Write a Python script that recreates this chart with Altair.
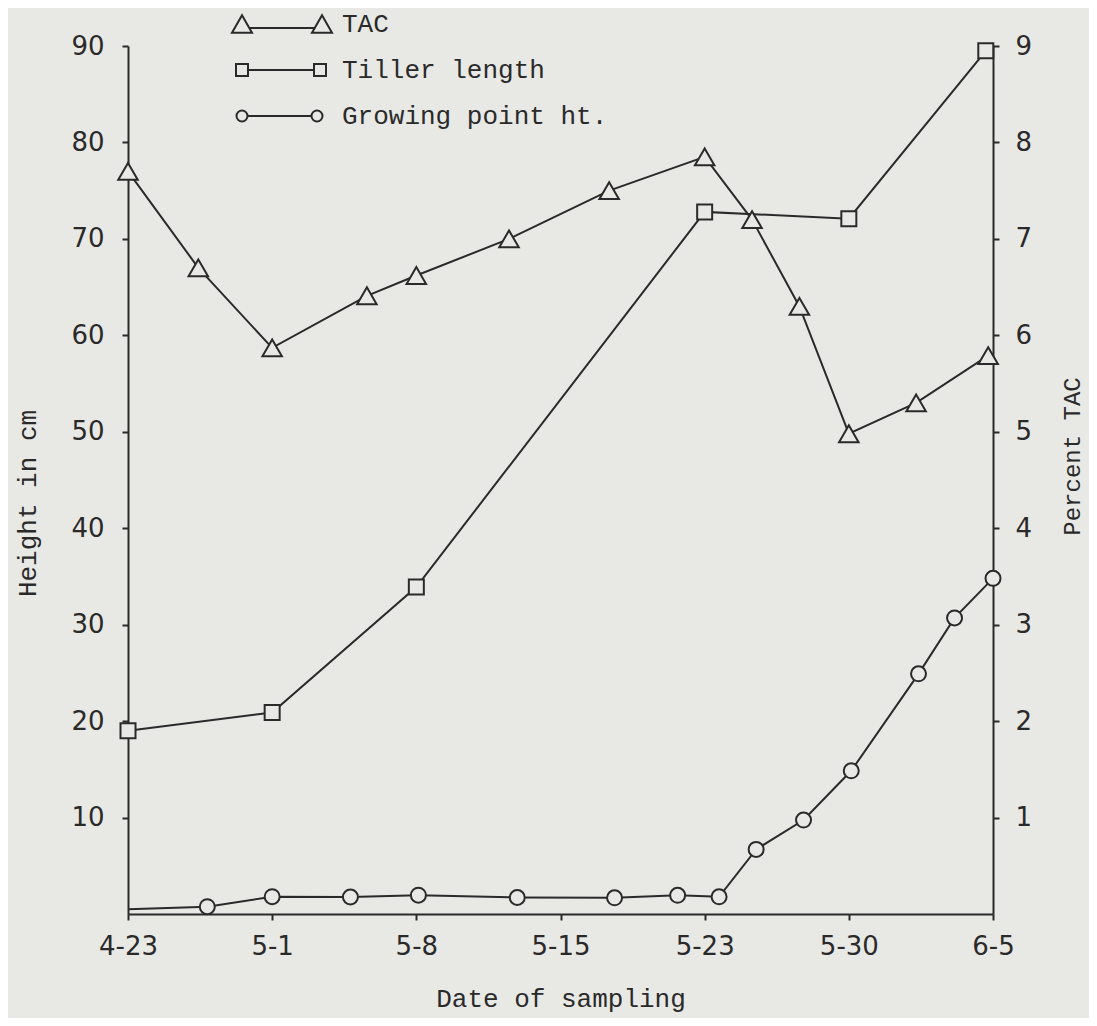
import altair as alt
import pandas as pd

# ---------------- data ----------------
tick_days = [0, 8, 15, 22, 30, 37, 43]            # days after 4-23
tick_labels = ["4-23", "5-1", "5-8", "5-15", "5-23", "5-30", "6-5"]

tac_days = [0, 3.9, 8, 12.6, 15, 19.5, 24.7, 30, 32.3, 34.6, 37, 39.8, 42.8]
tac_pct = [7.70, 6.70, 5.87, 6.41, 6.62, 7.00, 7.50, 7.85, 7.20, 6.30, 4.98, 5.30, 5.79]

tiller_days = [0, 8, 15, 30, 37, 42.7]
tiller_cm = [19.0, 20.9, 33.9, 72.8, 72.1, 89.5]

growing_days = [0, 4.4, 8, 11.8, 15.1, 19.9, 25.0, 28.5, 30.7, 32.5, 34.8, 37.1, 39.9, 41.4, 43]
growing_cm = [0.5, 0.76, 1.8, 1.76, 1.95, 1.71, 1.68, 1.94, 1.78, 6.7, 9.74, 14.85, 24.9, 30.7, 34.8]

series_names = ["TAC", "Tiller length", "Growing point ht."]
height_ticks = [10, 20, 30, 40, 50, 60, 70, 80, 90]
pct_ticks = [1, 2, 3, 4, 5, 6, 7, 8, 9]

# ---------------- styling ----------------
W, H = 865, 868
BG = "#e8e8e5"
INK = "#2a2a2a"
TICK_FONT = "DejaVu Sans"
TEXT_FONT = "Liberation Mono"

x_range = [W * i / (len(tick_days) - 1) for i in range(len(tick_days))]
x_scale = alt.Scale(domain=tick_days, range=x_range, nice=False, zero=False)
h_scale = alt.Scale(domain=[0, 90], nice=False)
p_scale = alt.Scale(domain=[0, 9], nice=False)

label_expr = "''"
for d, l in reversed(list(zip(tick_days, tick_labels))):
    label_expr = f"datum.value == {d} ? '{l}' : ({label_expr})"

common_axis = dict(
    domainColor=INK, domainWidth=2, tickColor=INK, tickWidth=2, tickSize=6,
    labelFont=TICK_FONT, labelFontSize=26, labelColor=INK,
    titleFont=TEXT_FONT, titleFontWeight="normal", titleColor=INK,
    grid=False, labelOverlap=False, labelFlush=False,
)

x_axis = alt.Axis(values=tick_days, labelExpr=label_expr, labelPadding=13,
                  title="Date of sampling", titleFontSize=26,
                  titleBaseline="alphabetic", titleY=92, titleX=W / 2,
                  **common_axis)
left_axis = alt.Axis(orient="left", values=height_ticks, labelPadding=18,
                     title="Height in cm", titleFontSize=26, titleAngle=270,
                     titleBaseline="alphabetic", titleX=-93, titleY=457,
                     **common_axis)
right_axis = alt.Axis(orient="right", values=pct_ticks, labelPadding=16,
                      title="Percent TAC", titleFontSize=24, titleAngle=270,
                      titleBaseline="alphabetic", titleX=86, titleY=410,
                      **common_axis)

tac_df = pd.DataFrame({"day": tac_days, "pct": tac_pct})
tiller_df = pd.DataFrame({"day": tiller_days, "cm": tiller_cm})
growing_df = pd.DataFrame({"day": growing_days, "cm": growing_cm})
growing_marked = pd.DataFrame({"day": growing_days[1:], "cm": growing_cm[1:]})

X = alt.X("day:Q", scale=x_scale, axis=x_axis)

line_kw = dict(color=INK, strokeWidth=2)

growing_line = alt.Chart(growing_df).mark_line(**line_kw).encode(
    x=X, y=alt.Y("cm:Q", scale=h_scale, axis=left_axis),
)
tiller_line = alt.Chart(tiller_df).mark_line(**line_kw).encode(
    x=X, y=alt.Y("cm:Q", scale=h_scale, axis=None),
)
tac_line = alt.Chart(tac_df).mark_line(**line_kw).encode(
    x=X, y=alt.Y("pct:Q", scale=p_scale, axis=right_axis),
)

pt_kw = dict(filled=True, fill=BG, stroke=INK, strokeWidth=2, opacity=1)
growing_pts = alt.Chart(growing_marked).mark_point(shape="circle", size=225, **pt_kw).encode(
    x=X, y=alt.Y("cm:Q", scale=h_scale, axis=None),
)
tiller_pts = alt.Chart(tiller_df).mark_point(shape="square", size=225, **pt_kw).encode(
    x=X, y=alt.Y("cm:Q", scale=h_scale, axis=None),
)
tac_pts = alt.Chart(tac_df).mark_point(shape="triangle-up", size=380, **pt_kw).encode(
    x=X, y=alt.Y("pct:Q", scale=p_scale, axis=None),
)


# ---------------- legend (symbol - line - symbol) ----------------
def tri(cx):
    return f"M{cx},-0.87L{cx - 1},0.87L{cx + 1},0.87Z"


def sq(cx, h=0.6):
    return f"M{cx - h},{-h}L{cx + h},{-h}L{cx + h},{h}L{cx - h},{h}Z"


def circ(cx, r=0.55):
    k = 0.5523 * r
    return (f"M{cx + r},0C{cx + r},{k} {cx + k},{r} {cx},{r}"
            f"C{cx - k},{r} {cx - r},{k} {cx - r},0"
            f"C{cx - r},{-k} {cx - k},{-r} {cx},{-r}"
            f"C{cx + k},{-r} {cx + r},{-k} {cx + r},0Z")


legend_paths = [
    tri(0) + "M0.73,0.4L7.27,0.4" + tri(8),
    sq(0) + "M0.6,0L7.2,0" + sq(7.8),
    circ(0) + "M0.55,0L6.95,0" + circ(7.5),
]

legend_df = pd.DataFrame({"series": series_names})
legend_layer = alt.Chart(legend_df).mark_point(opacity=0).encode(
    shape=alt.Shape(
        "series:N",
        scale=alt.Scale(domain=series_names, range=legend_paths),
        legend=alt.Legend(
            orient="none", legendX=101, legendY=-35, title=None,
            labelFont=TEXT_FONT, labelFontSize=26, labelColor=INK,
            labelLimit=0, labelOffset=87, symbolSize=400, symbolStrokeWidth=2,
            symbolStrokeColor=INK, symbolFillColor=BG, symbolOpacity=1,
            rowPadding=20, padding=0, offset=0,
        ),
    )
)

chart = alt.layer(
    growing_line, tiller_line, tac_line,
    growing_pts, tiller_pts, tac_pts,
    legend_layer,
).resolve_scale(
    y="independent"
).properties(
    width=W, height=H, background=BG,
    padding={"left": 120, "top": 38, "right": 96, "bottom": 104},
    autosize=alt.AutoSizeParams(type="none"),
).configure_view(stroke=None)

chart.save("out.html", embed_options={"renderer": "svg", "actions": False})
